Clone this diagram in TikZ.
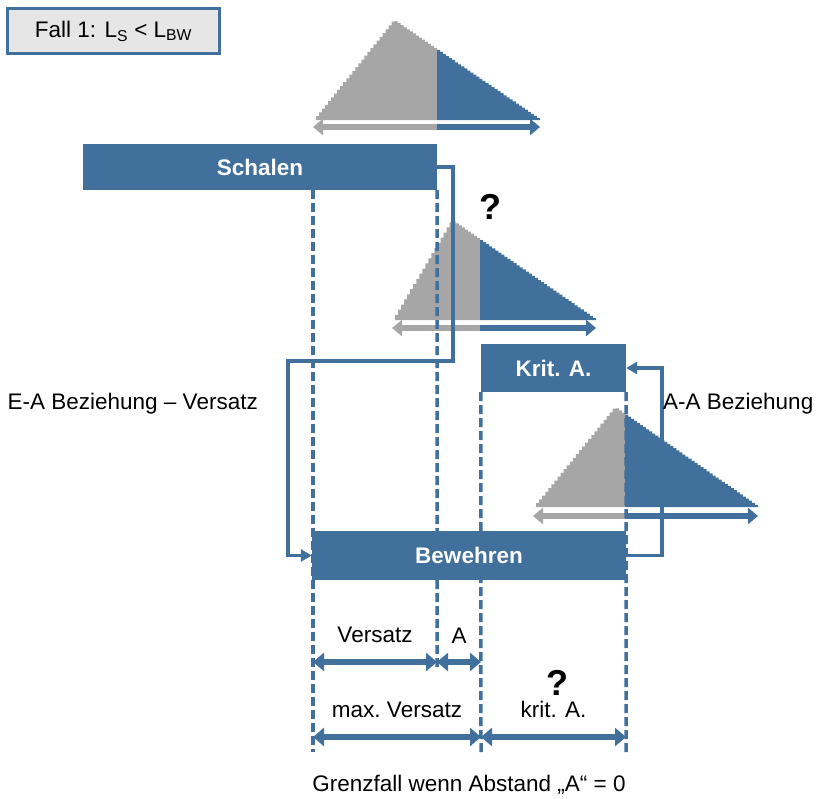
\documentclass[tikz,border=0pt]{standalone}
\usepackage{fontspec}
\setmainfont{Liberation Sans}
\usetikzlibrary{arrows.meta,positioning}

\definecolor{blau}{HTML}{41709C}
\definecolor{grau}{HTML}{A6A6A6}
\definecolor{hell}{HTML}{E6E6E6}

\newcommand{\normalgr}{\fontsize{22.5}{26}\selectfont}

% Verteilung: links, spitze, teilung, rechts, basis, pfeil
\newcommand{\Verteilung}[6]{%
  \pgfmathtruncatemacro\nlinks{(#3-#1)/3+1}
  \pgfmathtruncatemacro\nrechts{(#4-#3)/3+1}
  \fill[grau] (#1,#5) -- plot[const plot, domain=#1:#3, samples=\nlinks]
    (\x,{#5-100*min((\x-#1)/(#2-#1),(#4-\x)/(#4-#2))}) -- (#3,#5) -- cycle;
  \fill[blau] (#3,#5) -- plot[const plot, domain=#3:#4, samples=\nrechts]
    (\x,{#5-100*min((\x-#1)/(#2-#1),(#4-\x)/(#4-#2))}) -- (#4,#5) -- cycle;
  \draw[grau, verteilpfeil] (#3,#6) -- (#1,#6);
  \draw[blau, verteilpfeil] (#3,#6) -- (#4,#6);
}

\begin{document}
\begin{tikzpicture}[x=1pt, y=-1pt, font=\normalgr,
  kasten/.style={fill=blau, text=white, font=\normalgr\bfseries, inner sep=0pt},
  fallbox/.style={draw=blau, line width=3.5pt, fill=hell, inner sep=0pt,
    minimum width=212pt, minimum height=45pt},
  gestrichelt/.style={blau, line width=3.5pt, dash pattern=on 9pt off 4pt},
  beziehung/.style={blau, line width=3.5pt, -{Triangle[length=11pt,width=12pt]}},
  verteilpfeil/.style={line width=6pt, -{Triangle[length=10pt,width=16pt]}},
  mass/.style={blau, line width=6pt,
    {Triangle[length=11pt,width=18pt]}-{Triangle[length=11pt,width=18pt]}},
  lbl/.style={midway, above=16pt, inner sep=0pt, text=black},
  frage/.style={font=\fontsize{36}{40}\selectfont\bfseries, inner sep=0pt}]
\useasboundingbox (0,0) rectangle (826,798);

\node[fallbox] (fall) at (113.5,31) {Fall 1: L\textsubscript{S} < L\textsubscript{BW}};

% Verteilungen
\Verteilung{313}{393}{437}{540}{120}{127}
\Verteilung{392}{451}{480}{596}{320}{328}
\Verteilung{533}{614}{625}{758}{507}{516}

% Balken
\node[kasten, minimum width=354pt, minimum height=46pt] (schalen) at (260,167) {};
\node[kasten, minimum width=145pt, minimum height=48pt] (krit) at (553.5,368) {};
\node[kasten, minimum width=314pt, minimum height=49pt] (bew) at (469,555.5) {};

\coordinate (u1) at (313,752);
\coordinate (u2) at (437,668);
\coordinate (u3) at (481,752);
\coordinate (u4) at (626,752);
\coordinate (r1) at (0,662);
\coordinate (r2) at (0,737);
\coordinate (ea) at (288,361);

\draw[gestrichelt] (schalen.south -| u1) -- (u1);
\draw[gestrichelt] (schalen.south east) -- (u2);
\draw[gestrichelt] (krit.south west) -- (u3);
\draw[gestrichelt] (krit.south east) -- (u4);

% Balken mit Text oben drauf
\node[kasten, minimum width=354pt, minimum height=46pt] at (schalen) {Schalen};
\node[kasten, minimum width=145pt, minimum height=48pt] at (krit) {Krit. A.};
\node[kasten, minimum width=314pt, minimum height=49pt] at (bew) {Bewehren};

% Beziehungen
\draw[beziehung] (schalen.east) -- ++(16,0) |- (ea) |- (bew.west);
\draw[beziehung] (bew.east) -- ++(36,0) |- (krit.east);

\node[anchor=east, inner sep=0pt] (eatext) at (258,404) {E-A Beziehung – Versatz};
\node[anchor=west, inner sep=0pt] (aatext) at (663,404) {A-A Beziehung};

% Bemassung
\draw[mass] (u1 |- r1) -- node[lbl] {Versatz} (u2 |- r1);
\draw[mass] (u2 |- r1) -- node[lbl] {A} (u3 |- r1);
\draw[mass] (u1 |- r2) -- node[lbl] {max.\ Versatz} (u3 |- r2);
\draw[mass] (u3 |- r2) -- node[lbl] (krittext) {krit. A.} (u4 |- r2);

\node[frage] (frage1) at (490,207) {?};
\node[frage] (frage2) at (557,683) {?};

\node[inner sep=0pt] (grenz) at (469,785) {Grenzfall wenn Abstand „A“ = 0};
\end{tikzpicture}
\end{document}
